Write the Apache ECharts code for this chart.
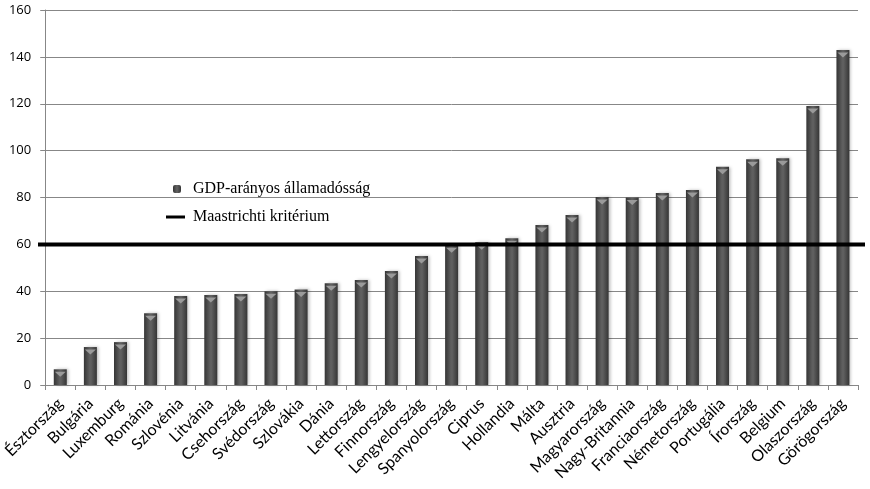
<!DOCTYPE html>
<html><head><meta charset="utf-8">
<script src="https://cdn.jsdelivr.net/npm/echarts@6/dist/echarts.min.js"></script>
<style>html,body{margin:0;padding:0;background:#fff}#c{width:870px;height:489px}</style>
</head><body><div id="c"></div>
<script>
const categories = ['Észtország','Bulgária','Luxemburg','Románia','Szlovénia','Litvánia','Csehország','Svédország','Szlovákia','Dánia','Lettország','Finnország','Lengyelország','Spanyolország','Ciprus','Hollandia','Málta','Ausztria','Magyarország','Nagy-Britannia','Franciaország','Németország','Portugália','Írország','Belgium','Olaszország','Görögország'];
const debtValues = [6.7,16.2,18.3,30.6,38.0,38.4,38.8,40.0,40.8,43.4,44.8,48.6,55.0,59.6,60.9,62.6,68.3,72.5,80.2,80.0,81.9,83.2,93.1,96.3,96.8,119.0,142.9];
const maastrichtValue = 60;
const yTicks = {min: 0, max: 160, interval: 20};
const seriesNames = ['GDP-arányos államadósság', 'Maastrichti kritérium'];

const barGrad = new echarts.graphic.LinearGradient(0,0,1,0,[
  {offset:0,color:'#353535'},{offset:0.45,color:'#5f5f5f'},{offset:0.55,color:'#5f5f5f'},{offset:1,color:'#353535'}]);

const chart = echarts.init(document.getElementById('c'), null, {renderer:'canvas'});
chart.setOption({
  animation:false,
  grid:[
    {left:45, right:12, top:10, bottom:104},
    {left:38, right:5, top:10, bottom:104}
  ],
  legend:[
    {data:[seriesNames[0]], left:168, top:176, itemWidth:8, itemHeight:8,
     textStyle:{fontFamily:'Liberation Serif', fontSize:16, color:'#000', padding:[0,0,0,7]}},
    {data:[{name:seriesNames[1], icon:'rect'}], left:161, top:204, itemWidth:19, itemHeight:3,
     textStyle:{fontFamily:'Liberation Serif', fontSize:16, color:'#000', padding:[0,0,0,3]}}
  ],
  xAxis:[
    {type:'category', gridIndex:0, data:categories,
     axisLine:{lineStyle:{color:'#878787'}},
     axisTick:{show:true, length:5, lineStyle:{color:'#878787'}},
     axisLabel:{rotate:45, interval:0, margin:16, fontFamily:'Lato', fontSize:16, color:'#000'}},
    {type:'value', gridIndex:1, min:0, max:1, show:false}
  ],
  yAxis:[
    {type:'value', gridIndex:0, min:yTicks.min, max:yTicks.max, interval:yTicks.interval,
     axisLine:{show:true, lineStyle:{color:'#878787'}},
     axisTick:{show:true, length:5, lineStyle:{color:'#878787'}},
     splitLine:{lineStyle:{color:'#878787'}},
     axisLabel:{margin:14, fontFamily:'Open Sans', fontSize:13, color:'#000'}},
    {type:'value', gridIndex:1, min:yTicks.min, max:yTicks.max, show:false}
  ],
  series:[
    {name:seriesNames[0], type:'bar', xAxisIndex:0, yAxisIndex:0, data:debtValues,
     barWidth:13, barGap:'-100%',
     itemStyle:{color:barGrad, shadowColor:'rgba(0,0,0,0.25)', shadowBlur:3, shadowOffsetX:2}},
    {name:'top', type:'pictorialBar', xAxisIndex:0, yAxisIndex:0, data:debtValues,
     barWidth:13, barGap:'-100%', symbol:'path://M0,0 L12,0 L6,5 Z',
     symbolSize:[11,5], symbolPosition:'end', symbolOffset:[0,'50%'],
     itemStyle:{color:'#9a9a9a'}, silent:true, z:3},
    {name:seriesNames[1], type:'line', xAxisIndex:1, yAxisIndex:1,
     data:[[0,maastrichtValue],[1,maastrichtValue]],
     symbol:'none', lineStyle:{color:'#000', width:4}, itemStyle:{color:'#000'}, z:5}
  ]
});
</script></body></html>
